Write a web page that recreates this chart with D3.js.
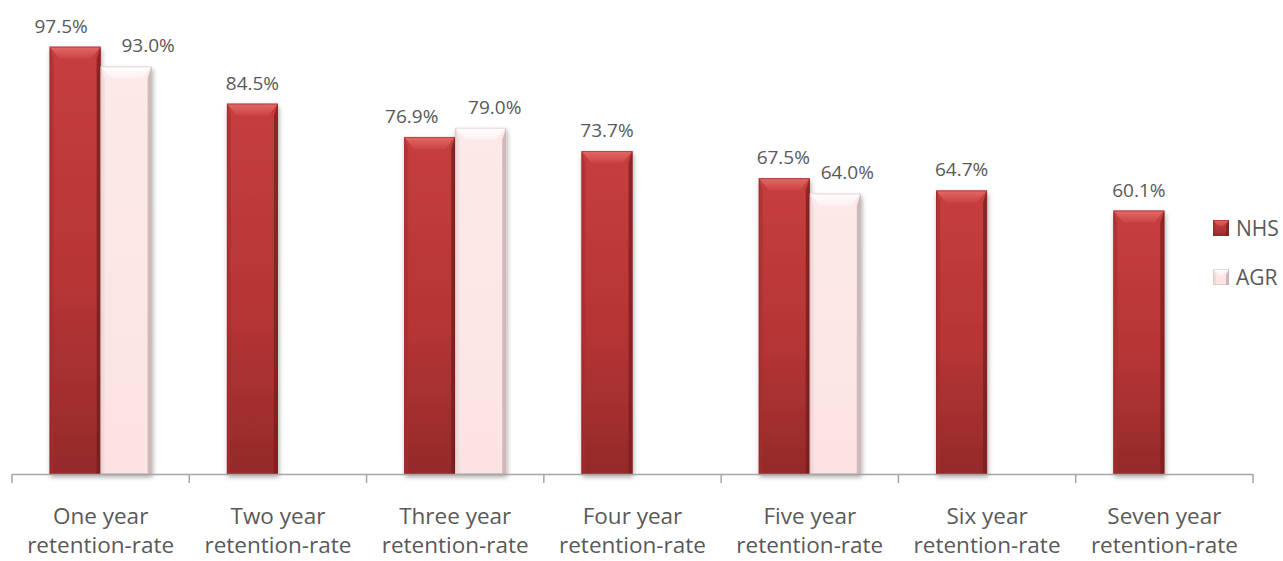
<!DOCTYPE html>
<html>
<head>
<meta charset="utf-8">
<script src="https://cdnjs.cloudflare.com/ajax/libs/d3/7.8.5/d3.min.js"></script>
<style>
  html, body { margin: 0; padding: 0; background: #ffffff; }
  svg { display: block; }
  text { font-family: "Open Sans", "Liberation Sans", sans-serif; fill: #595959; }
</style>
</head>
<body>
<svg id="chart" width="1283" height="561"></svg>
<script>
// Retention rates by year, NHS vs AGR (null = no figure reported)
const categories = ["One year", "Two year", "Three year", "Four year", "Five year", "Six year", "Seven year"];
const categorySuffix = "retention-rate";
const seriesNames = ["NHS", "AGR"];
const nhsValues = [97.5, 84.5, 76.9, 73.7, 67.5, 64.7, 60.1];
const agrValues = [93.0, null, 79.0, null, 64.0, null, null];

// horizontal nudges for value labels where two bars sit side by side
const labelNudge = {
  NHS: [-14, 0, -18, 0, -1, 0, 0],
  AGR: [22, 0, 14, 0, 12, 0, 0]
};

const valuesBySeries = { NHS: nhsValues, AGR: agrValues };

const svg = d3.select("#chart");

const x0 = d3.scaleBand().domain(categories).range([12, 1253]).padding(0);
const x1 = d3.scaleBand().domain(seriesNames).range([0, x0.bandwidth()]).paddingOuter(0.738).paddingInner(0);
const y = d3.scaleLinear().domain([0, 100]).range([474, 35.7]);

// gradients and shadow
const defs = svg.append("defs");
const gNhs = defs.append("linearGradient").attr("id", "gNHS").attr("x1", 0).attr("y1", 0).attr("x2", 0).attr("y2", 1);
gNhs.append("stop").attr("offset", "0%").attr("stop-color", "#C63E3E");
gNhs.append("stop").attr("offset", "55%").attr("stop-color", "#B73535");
gNhs.append("stop").attr("offset", "100%").attr("stop-color", "#942A2A");
const gAgr = defs.append("linearGradient").attr("id", "gAGR").attr("x1", 0).attr("y1", 0).attr("x2", 0).attr("y2", 1);
gAgr.append("stop").attr("offset", "0%").attr("stop-color", "#FDE9E9");
gAgr.append("stop").attr("offset", "100%").attr("stop-color", "#FCE3E3");

const topNhs = defs.append("linearGradient").attr("id", "tNHS").attr("x1", 0).attr("y1", 0).attr("x2", 0).attr("y2", 1);
topNhs.append("stop").attr("offset", "0%").attr("stop-color", "#E26A66");
topNhs.append("stop").attr("offset", "100%").attr("stop-color", "#CC4444");
const topAgr = defs.append("linearGradient").attr("id", "tAGR").attr("x1", 0).attr("y1", 0).attr("x2", 0).attr("y2", 1);
topAgr.append("stop").attr("offset", "0%").attr("stop-color", "#FFFFFF");
topAgr.append("stop").attr("offset", "100%").attr("stop-color", "#FDF0F0");

const shadow = defs.append("filter").attr("id", "shadow").attr("x", "-20%").attr("y", "-10%").attr("width", "140%").attr("height", "130%");
shadow.append("feDropShadow").attr("dx", 1).attr("dy", 3).attr("stdDeviation", 2.5)
  .attr("flood-color", "#000").attr("flood-opacity", 0.35);

const sideColors = {
  NHS: { left: "#A52D2D", right: "#7A1E1E", edge: "#8A2424" },
  AGR: { left: "#E6D2D2", right: "#BFA9A9", edge: "#C9B3B3" }
};

// draws one bevelled block (bar or legend swatch)
function bevelBlock(g, name, x, top, w, h, bev, sideW, withShadow) {
  const grp = g.append("g");
  const face = grp.append("rect").attr("x", x).attr("y", top).attr("width", w).attr("height", h)
    .attr("fill", `url(#g${name})`);
  if (withShadow) face.attr("filter", "url(#shadow)");
  const bt = Math.min(bev, h);
  const sw = sideW;
  // left side strip
  grp.append("path")
    .attr("d", `M${x},${top} L${x + sw},${top + bt} L${x + sw},${top + h} L${x},${top + h} Z`)
    .attr("fill", sideColors[name].left).attr("opacity", 0.55);
  // right side strip
  grp.append("path")
    .attr("d", `M${x + w},${top} L${x + w - sw},${top + bt} L${x + w - sw},${top + h} L${x + w},${top + h} Z`)
    .attr("fill", sideColors[name].right).attr("opacity", 0.75);
  // top bevel
  grp.append("path")
    .attr("d", `M${x},${top} L${x + w},${top} L${x + w - sw - bev * 0.5},${top + bt} L${x + sw + bev * 0.5},${top + bt} Z`)
    .attr("fill", `url(#t${name})`);
  // thin outline
  grp.append("rect").attr("x", x + 0.5).attr("y", top + 0.5).attr("width", w - 1).attr("height", h - 1)
    .attr("fill", "none").attr("stroke", sideColors[name].edge).attr("stroke-width", 1).attr("opacity", 0.5);
  return grp;
}

// bars and their value labels
const barsLayer = svg.append("g");
const labelsLayer = svg.append("g");
categories.forEach((cat, i) => {
  seriesNames.forEach(name => {
    const v = valuesBySeries[name][i];
    if (v == null) return;
    const bx = x0(cat) + x1(name);
    const bw = x1.bandwidth();
    const top = y(v);
    const h = y(0) - top;
    bevelBlock(barsLayer, name, bx, top, bw, h, 12, 4, true);
    labelsLayer.append("text")
      .attr("x", bx + bw / 2 + labelNudge[name][i])
      .attr("y", top - 14)
      .attr("text-anchor", "middle")
      .attr("font-size", 19)
      .text(v.toFixed(1) + "%");
  });
});

// category axis
const axisG = svg.append("g");
axisG.append("line").attr("x1", x0.range()[0]).attr("x2", x0.range()[1])
  .attr("y1", 474.5).attr("y2", 474.5).attr("stroke", "#A6A6A6").attr("stroke-width", 1.5);
const boundaries = categories.map(c => x0(c)).concat([x0.range()[1]]);
axisG.selectAll("line.tick").data(boundaries).enter().append("line")
  .attr("class", "tick")
  .attr("x1", d => d).attr("x2", d => d)
  .attr("y1", 474).attr("y2", 483)
  .attr("stroke", "#A6A6A6").attr("stroke-width", 1.5);

const catLabels = axisG.selectAll("text.cat").data(categories).enter().append("text")
  .attr("class", "cat")
  .attr("text-anchor", "middle")
  .attr("font-size", 22.5);
catLabels.append("tspan").attr("x", d => x0(d) + x0.bandwidth() / 2).attr("y", 524).text(d => d);
catLabels.append("tspan").attr("x", d => x0(d) + x0.bandwidth() / 2).attr("y", 553).text(categorySuffix);

// legend
const legend = svg.append("g");
seriesNames.forEach((name, k) => {
  const ly = 220 + k * 49;
  bevelBlock(legend, name, 1213, ly, 16, 16, 6, 3, false);
  legend.append("text").attr("x", 1236).attr("y", ly + 16).attr("font-size", 21).text(name);
});
</script>
</body>
</html>
